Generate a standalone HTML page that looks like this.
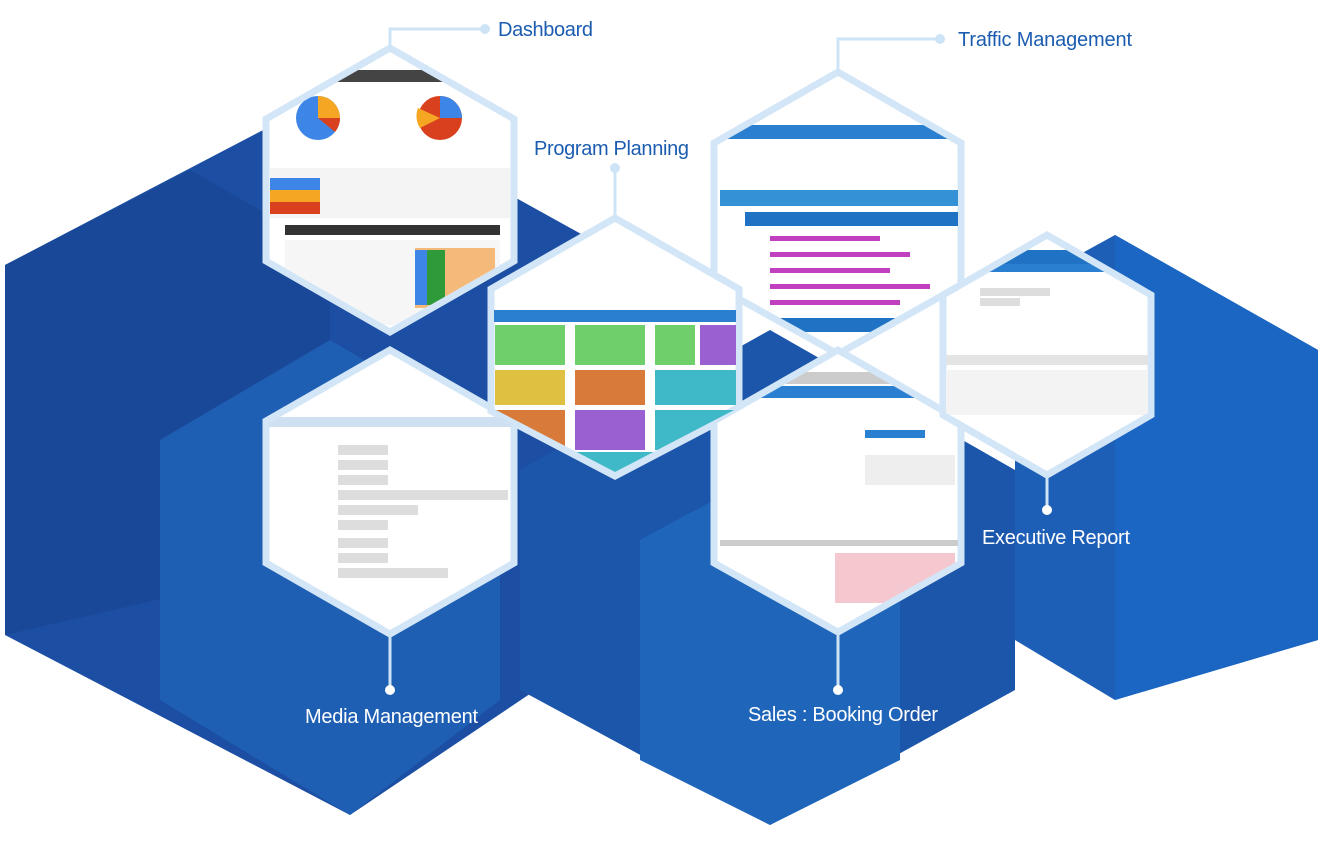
<!DOCTYPE html>
<html><head><meta charset="utf-8"><style>
html,body{margin:0;padding:0;background:#fff;}
svg{display:block;font-family:"Liberation Sans","Noto Sans CJK SC",sans-serif;}
</style></head><body>
<svg width="1323" height="843" viewBox="0 0 1323 843" xmlns="http://www.w3.org/2000/svg">
<defs>
<clipPath id="c1"><polygon points="390,52 511,121 511,259 390,328 269,259 269,121"/></clipPath>
<clipPath id="c2"><polygon points="390,354 511,423 511,561 390,630 269,561 269,423"/></clipPath>
<clipPath id="c3"><polygon points="615,222 736,291 736,409 615,472 494,409 494,291"/></clipPath>
<clipPath id="c4"><polygon points="838,76 958,145 958,283 838,350 717,283 717,145"/></clipPath>
<clipPath id="c5"><polygon points="838,354 958,423 958,561 838,628 717,561 717,423"/></clipPath>
<clipPath id="c6"><polygon points="1047,239 1148,297 1148,413 1047,471 946,413 946,297"/></clipPath>
</defs>
<polygon points="5,265 330,95 610,250 610,640 350,815 5,635" fill="#1c4fa3"/>
<polygon points="5,265 190,170 330,250 330,560 5,635" fill="#1a4898"/>
<polygon points="160,440 330,340 500,440 500,700 350,815 160,700" fill="#1e5fb3"/>
<polygon points="520,470 770,330 1015,470 1015,690 770,825 520,690" fill="#1b56ab"/>
<polygon points="640,540 770,470 900,540 900,760 770,825 640,760" fill="#1f66ba"/>
<polygon points="1015,290 1115,235 1318,350 1318,640 1115,700 1015,640" fill="#1d5fb6"/>
<polygon points="1115,235 1318,350 1318,640 1115,700" fill="#1a66c2"/>
<g stroke="#d3e6f7" stroke-width="7">
<polygon points="390,48 514,119 514,261 390,332 266,261 266,119" fill="#fff"/>
<polygon points="390,350 514,421 514,563 390,634 266,563 266,421" fill="#fff"/>
<polygon points="838,72 961,143 961,285 838,354 714,285 714,143" fill="#fff"/>
<polygon points="615,218 739,289 739,411 615,476 491,411 491,289" fill="#fff"/>
<polygon points="838,350 961,421 961,563 838,632 714,563 714,421" fill="#fff"/>
<polygon points="1047,235 1151,295 1151,415 1047,475 943,415 943,295" fill="#fff"/>
</g>
<g clip-path="url(#c1)">
<rect x="260" y="70" width="260" height="12" fill="#444"/>
<circle cx="318" cy="118" r="22" fill="#3d86e8"/><path d="M318,118 L318,96 A22,22 0 0,1 340,118 Z" fill="#f5a623"/><path d="M318,118 L340,118 A22,22 0 0,1 335,132Z" fill="#d9411e"/>
<circle cx="440" cy="118" r="22" fill="#d9411e"/><path d="M440,118 L440,96 A22,22 0 0,1 462,118 Z" fill="#3d86e8"/><path d="M440,118 L420,128 A22,22 0 0,1 418,108Z" fill="#f5a623"/>
<rect x="270" y="168" width="240" height="50" fill="#f4f4f4"/>
<rect x="270" y="178" width="50" height="12" fill="#3d86e8"/><rect x="270" y="190" width="50" height="12" fill="#f5a623"/><rect x="270" y="202" width="50" height="12" fill="#d9411e"/>
<rect x="285" y="225" width="215" height="10" fill="#333"/>
<rect x="285" y="240" width="215" height="85" fill="#f6f6f6"/>
<rect x="415" y="248" width="80" height="60" fill="#f5b97a"/><rect x="415" y="250" width="30" height="55" fill="#2e9a3a"/><rect x="415" y="250" width="12" height="55" fill="#3d86e8"/>
</g>
<g clip-path="url(#c2)" fill="#ddd">
<rect x="262" y="417" width="255" height="10" fill="#cfe0f2"/>
<rect x="338" y="445" width="50" height="10"/><rect x="338" y="460" width="50" height="10"/><rect x="338" y="475" width="50" height="10"/>
<rect x="338" y="490" width="170" height="10"/><rect x="338" y="505" width="80" height="10"/><rect x="338" y="520" width="50" height="10"/>
<rect x="338" y="538" width="50" height="10"/><rect x="338" y="553" width="50" height="10"/><rect x="338" y="568" width="110" height="10"/>
</g>
<g clip-path="url(#c3)">
<rect x="490" y="310" width="250" height="12" fill="#2a7fd0"/>
<rect x="495" y="325" width="70" height="40" fill="#6fcf6a"/><rect x="575" y="325" width="70" height="40" fill="#6fcf6a"/><rect x="655" y="325" width="40" height="40" fill="#6fcf6a"/><rect x="700" y="325" width="40" height="40" fill="#9a5fd0"/>
<rect x="495" y="370" width="70" height="35" fill="#e0c040"/><rect x="575" y="370" width="70" height="35" fill="#d77a3a"/><rect x="655" y="370" width="85" height="35" fill="#3fb8c8"/>
<rect x="495" y="410" width="70" height="40" fill="#d77a3a"/><rect x="575" y="410" width="70" height="40" fill="#9a5fd0"/><rect x="655" y="410" width="85" height="40" fill="#3fb8c8"/>
<rect x="575" y="452" width="80" height="25" fill="#3fb8c8"/>
</g>
<g clip-path="url(#c4)">
<rect x="710" y="125" width="255" height="14" fill="#2a7fd0"/>
<rect x="720" y="190" width="240" height="16" fill="#3591d6"/>
<rect x="745" y="212" width="215" height="14" fill="#1f72c4"/>
<g fill="#c040c0"><rect x="770" y="236" width="110" height="5"/><rect x="770" y="252" width="140" height="5"/><rect x="770" y="268" width="120" height="5"/><rect x="770" y="284" width="160" height="5"/><rect x="770" y="300" width="130" height="5"/></g>
<rect x="745" y="318" width="215" height="14" fill="#1f72c4"/>
</g>
<g clip-path="url(#c5)">
<rect x="710" y="372" width="255" height="12" fill="#ccc"/><rect x="710" y="386" width="255" height="12" fill="#2a7fd0"/>
<rect x="865" y="430" width="60" height="8" fill="#2a7fd0"/>
<rect x="865" y="455" width="90" height="30" fill="#eee"/>
<rect x="835" y="553" width="120" height="50" fill="#f5c8d0"/>
<rect x="720" y="540" width="240" height="6" fill="#ccc"/>
</g>
<g clip-path="url(#c6)">
<rect x="940" y="250" width="215" height="14" fill="#1f72c4"/><rect x="940" y="264" width="215" height="8" fill="#2a7fd0"/>
<rect x="980" y="288" width="70" height="8" fill="#ddd"/><rect x="980" y="298" width="40" height="8" fill="#ddd"/>
<rect x="945" y="355" width="205" height="10" fill="#e4e4e4"/><rect x="945" y="370" width="205" height="45" fill="#f3f3f3"/>
</g>
<g stroke="#cde3f6" stroke-width="3" fill="none">
<polyline points="390,48 390,29 485,29"/>
<polyline points="838,72 838,39 940,39"/>
<line x1="615" y1="218" x2="615" y2="168"/>
<line x1="390" y1="634" x2="390" y2="690"/>
<line x1="838" y1="632" x2="838" y2="690"/>
<line x1="1047" y1="475" x2="1047" y2="510"/>
</g>
<g fill="#cde3f6"><circle cx="485" cy="29" r="5"/><circle cx="940" cy="39" r="5"/><circle cx="615" cy="168" r="5"/></g>
<g fill="#fff"><circle cx="390" cy="690" r="5"/><circle cx="838" cy="690" r="5"/><circle cx="1047" cy="510" r="5"/></g>
<g font-size="20" fill="#1b5cb0">
<text x="498" y="36" textLength="95">Dashboard</text>
<text x="958" y="46" textLength="174">Traffic Management</text>
<text x="534" y="155" textLength="155">Program Planning</text>
</g>
<g font-size="20" fill="#fff">
<text x="305" y="723" textLength="173">Media Management</text>
<text x="748" y="721" textLength="190">Sales : Booking Order</text>
<text x="982" y="544" textLength="148">Executive Report</text>
</g>
</svg>
</body></html>
